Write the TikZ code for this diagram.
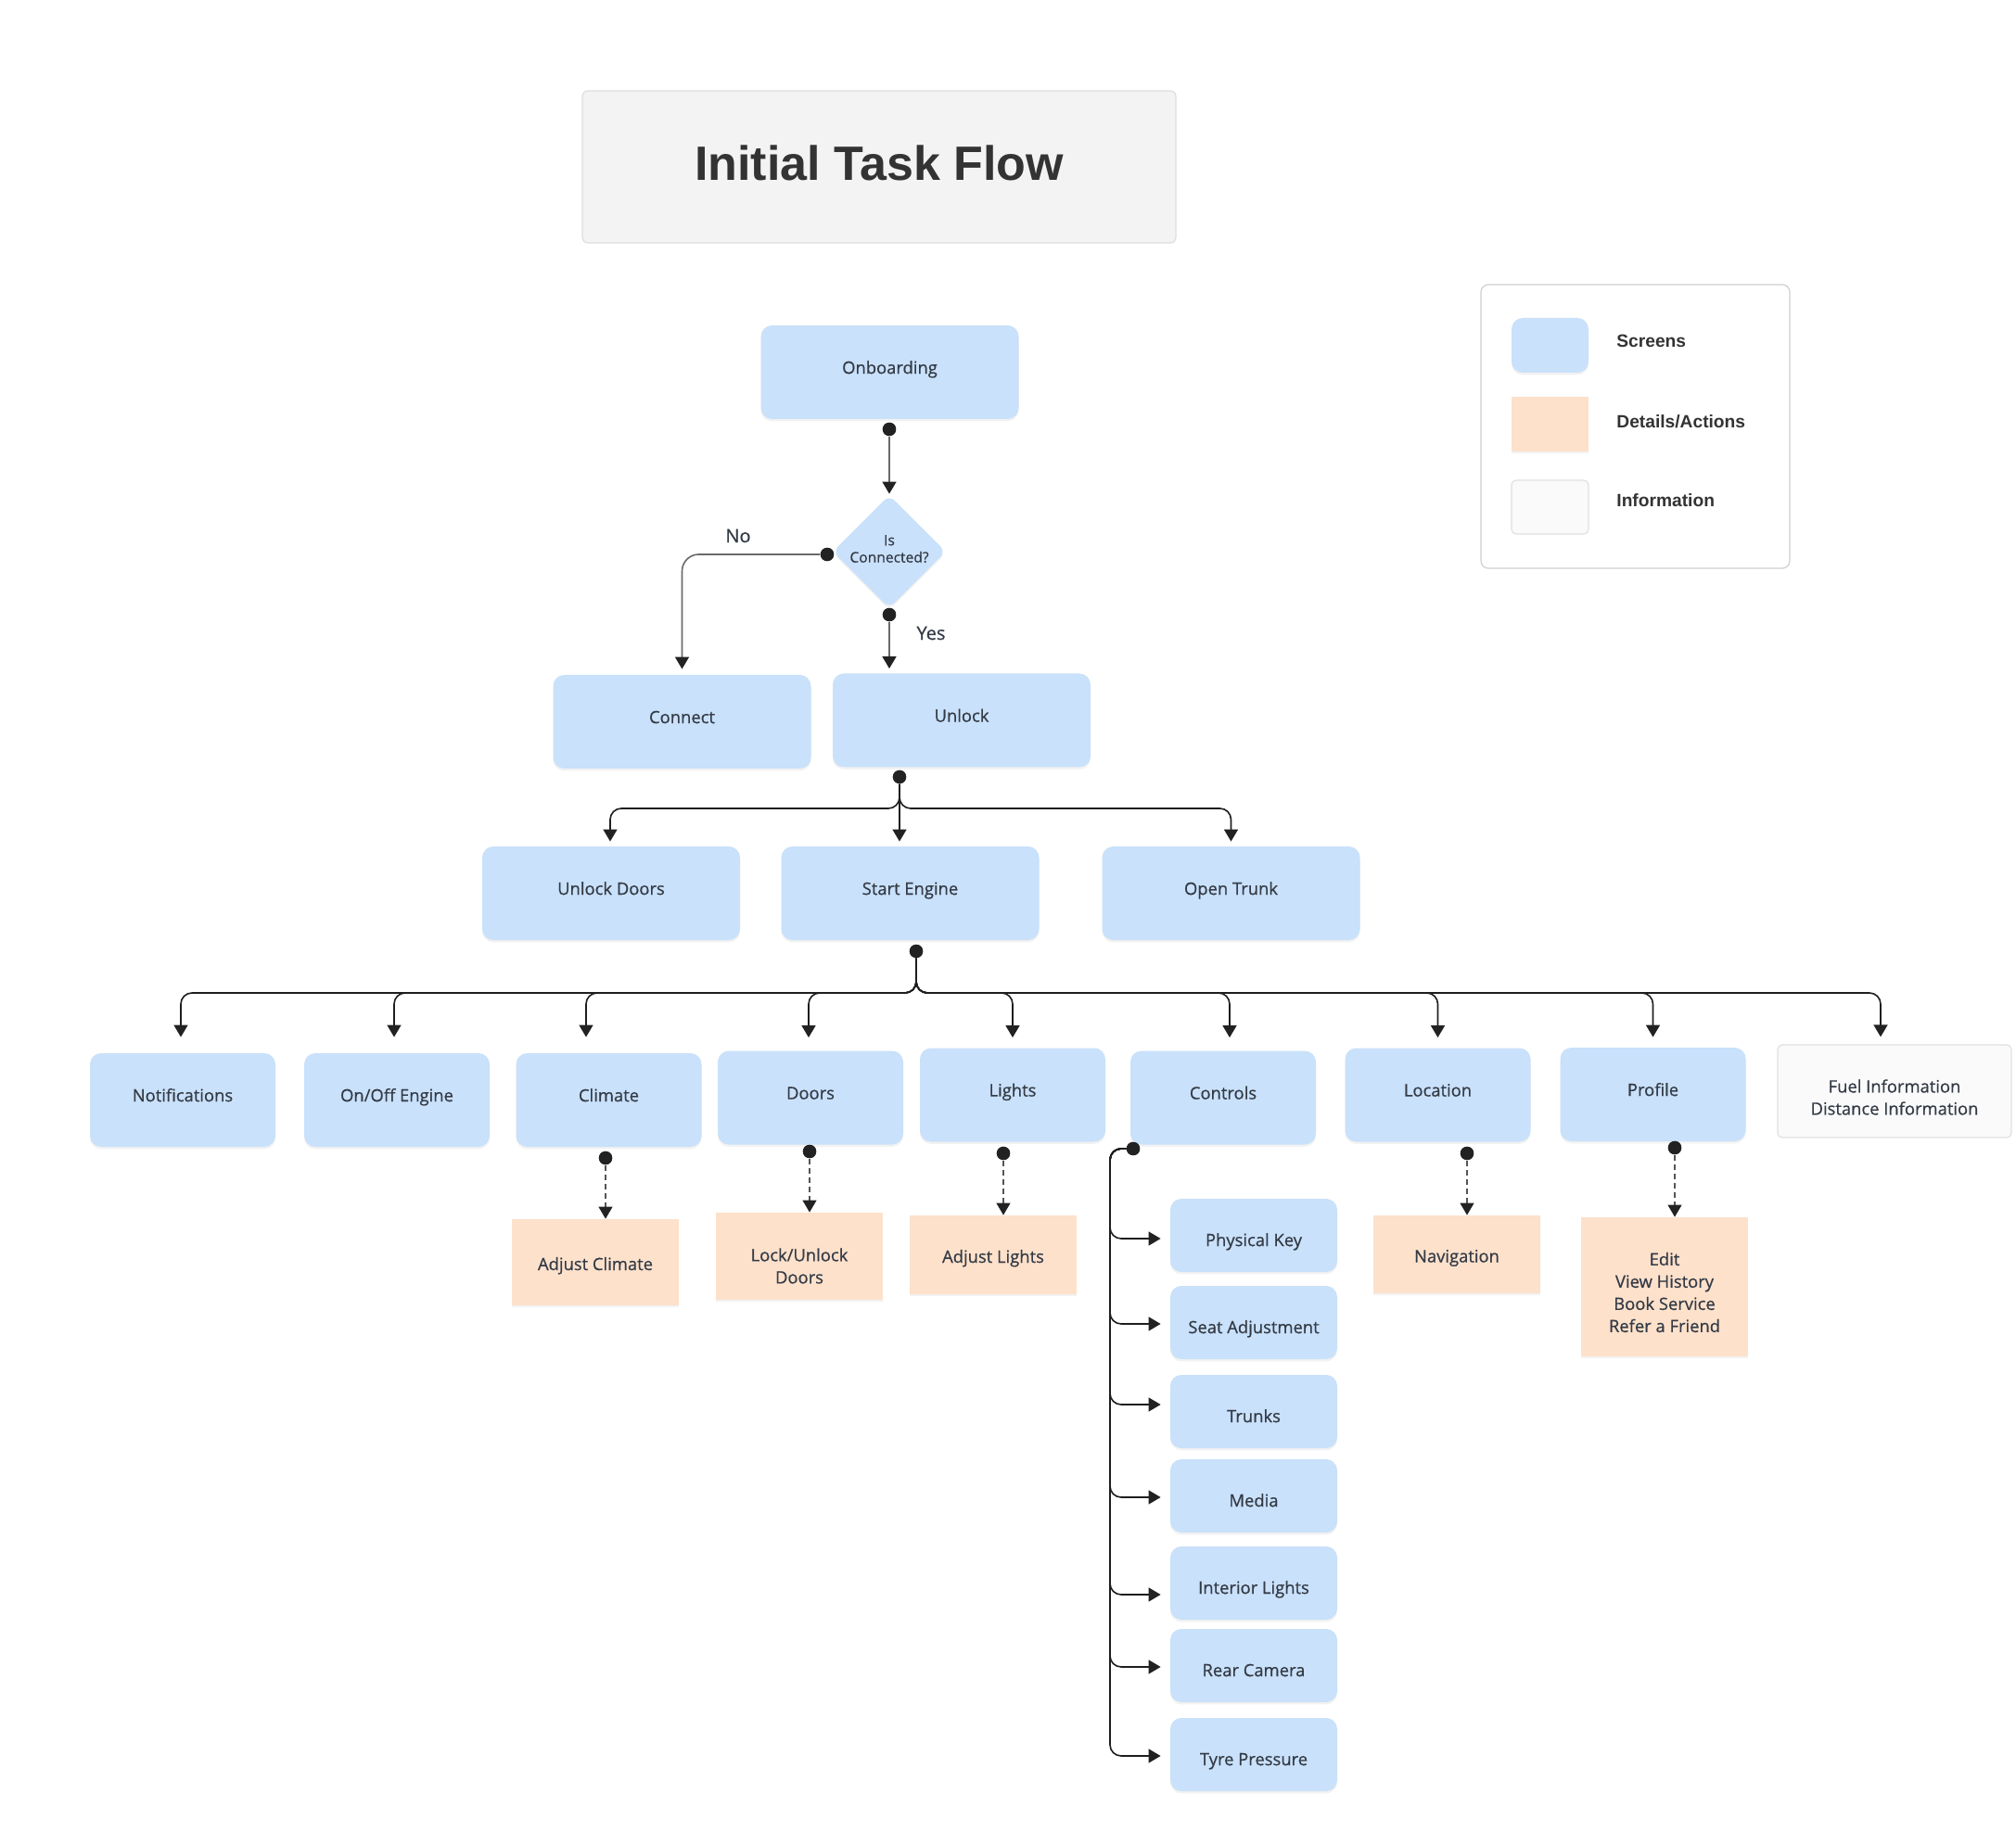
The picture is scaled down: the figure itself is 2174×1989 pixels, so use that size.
\documentclass[tikz,border=0pt]{standalone}
\usepackage{fontspec}
\setmainfont{Open Sans}[FakeBold=0.6]
\newfontfamily\headfont{Liberation Sans}
\usetikzlibrary{arrows.meta,shapes.geometric,shadows,calc}
\definecolor{scrblue}{HTML}{C9E1FA}
\definecolor{peach}{HTML}{FDE1CB}
\definecolor{infofill}{HTML}{FAFAFA}
\definecolor{infoline}{HTML}{E0E0E0}
\definecolor{titlefill}{HTML}{F3F3F3}
\definecolor{titleline}{HTML}{DEDEDE}
\definecolor{legline}{HTML}{CFCFCF}
\definecolor{txt}{HTML}{343B46}
\definecolor{headtxt}{HTML}{333333}
\definecolor{linec}{HTML}{1E1E1E}
\definecolor{greyline}{HTML}{6A6A6A}
\definecolor{dashc}{HTML}{555555}
\definecolor{dotc}{HTML}{222222}
\begin{document}
\begin{tikzpicture}[x=0.5pt,y=-0.5pt,text=txt,
  font=\fontsize{9.2}{12}\selectfont,
  shad/.style={drop shadow={opacity=0.10,shadow xshift=0pt,shadow yshift=-1.2pt}},
  scrbox/.style={fill=scrblue,rounded corners=6pt,inner sep=0pt,shad,text height=7pt,text depth=5.4pt},
  widebox/.style={minimum width=139pt,minimum height=50.5pt},
  midbox/.style={minimum width=100pt,minimum height=50.5pt},
  subbox/.style={fill=scrblue,rounded corners=6pt,inner sep=0pt,shad,minimum width=90pt,minimum height=39.5pt,text height=12pt,text depth=0.4pt},
  detbox/.style={fill=peach,inner sep=0pt,shad,minimum width=90pt,text height=9pt,text depth=0.5pt},
  infobox/.style={fill=infofill,draw=infoline,line width=0.6pt,rounded corners=2.5pt,inner sep=0pt},
  jdot/.style={circle,fill=dotc,inner sep=0pt,minimum size=7.2pt},
  tip/.style={-{Triangle[length=6.5pt,width=7.5pt,color=dotc]}},
  conn/.style={draw=linec,line width=0.8pt,tip},
  gconn/.style={draw=greyline,line width=0.8pt,tip},
  dconn/.style={draw=dashc,line width=0.6pt,dash pattern=on 3pt off 2pt,tip},
  legtext/.style={anchor=west,inner sep=0pt,text=headtxt,font=\headfont\bfseries\fontsize{9.6}{11}\selectfont,text height=6.8pt,text depth=0pt},
]
\useasboundingbox (0,0) rectangle (2174,1989);
\fill[white] (0,0) rectangle (2174,1989);

% title
\node[fill=titlefill,draw=titleline,line width=0.6pt,rounded corners=3pt,minimum width=320pt,minimum height=82pt,inner sep=0pt,text=headtxt,font=\headfont\bfseries\fontsize{26}{30}\selectfont,text depth=4pt] (title) at (948,180) {Initial Task Flow};

% legend
\node[draw=legline,fill=white,line width=0.6pt,rounded corners=4pt,minimum width=166.5pt,minimum height=153pt,inner sep=0pt] (legend) at (1763.5,460) {};
\node[fill=scrblue,rounded corners=6pt,shad,minimum width=41.5pt,minimum height=29.5pt,inner sep=0pt] (swscr) at (1671.5,372.5) {};
\node[fill=peach,shad,minimum width=41.5pt,minimum height=29.5pt,inner sep=0pt] (swdet) at (1671.5,457.5) {};
\node[infobox,minimum width=41.5pt,minimum height=29pt] (swinf) at (1671.5,547) {};
\node[legtext] (lgscr) at (1743,368) {Screens};
\node[legtext] (lgdet) at (1743,455) {Details/Actions};
\node[legtext] (lginf) at (1743,540) {Information};

% top flow
\node[scrbox,widebox] (onb) at (959.5,401.5) {Onboarding};
\node[diamond,aspect=1,fill=scrblue,shad,minimum width=61pt,minimum height=61pt,inner sep=0pt,rounded corners=4pt] (dia) at (959,595) {};
\node[font=\fontsize{7.8}{9.2}\selectfont,align=center] (diat) at (959,592) {Is\\Connected?};
\node[scrbox,widebox] (connect) at (735.5,778.5) {Connect};
\node[scrbox,widebox] (unl) at (1037,777) {Unlock};
\node[font=\fontsize{10}{12}\selectfont] (lno) at (796,578) {No};
\node[font=\fontsize{10}{12}\selectfont] (lyes) at (1004,683) {Yes};

\node[scrbox,widebox] (ud) at (659,963.5) {Unlock Doors};
\node[scrbox,widebox] (se) at (981.5,963.5) {Start Engine};
\node[scrbox,widebox] (ot) at (1327.5,963.5) {Open Trunk};

% row 3
\node[scrbox,midbox] (noti) at (197,1186.5) {Notifications};
\node[scrbox,midbox] (onoff) at (428,1186.5) {On/Off Engine};
\node[scrbox,midbox] (cli) at (656.5,1186.5) {Climate};
\node[scrbox,midbox] (door) at (874,1184) {Doors};
\node[scrbox,midbox] (lig) at (1092,1181) {Lights};
\node[scrbox,midbox] (ctl) at (1319,1184) {Controls};
\node[scrbox,midbox] (loc) at (1550.5,1181) {Location};
\node[scrbox,midbox] (prof) at (1782.5,1180.5) {Profile};
\node[infobox,minimum width=126pt,minimum height=50pt,
  label={[name=fuelt,align=center,yshift=-3.25pt]center:Fuel Information\\Distance Information}] (fuel) at (2043,1177) {};

% details
\node[detbox,minimum height=46.5pt] (adjc) at (642,1361.5) {Adjust Climate};
\node[detbox,minimum height=47pt,
  label={[name=ludt,align=center,yshift=-5.25pt]center:Lock/Unlock\\Doors}] (lud) at (862,1355) {};
\node[detbox,minimum height=42.5pt] (adl) at (1071,1353.5) {Adjust Lights};
\node[detbox,minimum height=42pt] (nav) at (1571,1353) {Navigation};
\node[detbox,minimum height=75pt,
  label={[name=editt,align=center,yshift=-3pt]center:Edit\\View History\\Book Service\\Refer a Friend}] (edit) at (1795,1388) {};

% controls sub screens
\node[subbox] (pk) at (1352,1332.5) {Physical Key};
\node[subbox] (sa) at (1352,1426.5) {Seat Adjustment};
\node[subbox] (tr) at (1352,1522.5) {Trunks};
\node[subbox] (me) at (1352,1613.5) {Media};
\node[subbox] (il) at (1352,1707.5) {Interior Lights};
\node[subbox] (rc) at (1352,1796.5) {Rear Camera};
\node[subbox] (tp) at (1352,1892.5) {Tyre Pressure};

% helper coordinates
\coordinate (ubus) at (0,872);
\coordinate (sbus) at (0,1071);
\coordinate (cbus) at (1197,1239);

% junction dots
\node[jdot] (dOn) at (959,463) {};
\node[jdot] (dNo) at (892,598) {};
\node[jdot] (dYes) at (959,663) {};
\node[jdot] (dU) at (970,838) {};
\node[jdot] (dSE) at (988,1026) {};
\node[jdot] (dC) at (653,1249) {};
\node[jdot] (dD) at (873,1242) {};
\node[jdot] (dL) at (1082,1244) {};
\node[jdot] (dLoc) at (1582,1244) {};
\node[jdot] (dP) at (1806,1238) {};
\node[jdot] (dCt) at (1222,1239) {};

% connectors
\draw[gconn,shorten >=0.5pt] (dOn) -- (dia.north);
\draw[gconn,rounded corners=9pt,shorten >=3pt] (dNo) -| (connect.north);
\draw[gconn,shorten >=2.5pt] (dYes) -- (dYes |- unl.north);

\draw[conn,shorten >=2.5pt] (dU) -- (dU |- se.north);
\draw[conn,rounded corners=6pt,shorten >=2.5pt] (dU) -- (dU |- ubus) -| ([xshift=-0.5pt]ud.north);
\draw[conn,rounded corners=6pt,shorten >=2.5pt] (dU) -- (dU |- ubus) -| (ot.north);

\foreach \t/\xs/\g in {noti/-1pt/8.5pt, onoff/-1.5pt/8.5pt, cli/-12.25pt/8.5pt, door/-1pt/7pt, lig/0pt/5.5pt, ctl/3.5pt/7pt, loc/0pt/5.5pt, prof/0pt/5.5pt, fuel/-7.5pt/4pt}
  \draw[conn,rounded corners=6pt,shorten >=\g] (dSE) -- (dSE |- sbus) -| ([xshift=\xs]\t.north);

\draw[dconn] (dC) -- (dC |- adjc.north);
\draw[dconn] (dD) -- (dD |- lud.north);
\draw[dconn] (dL) -- (dL |- adl.north);
\draw[dconn] (dLoc) -- (dLoc |- nav.north);
\draw[dconn] (dP) -- (dP |- edit.north);

\foreach \t/\ys in {pk/-1.75pt, sa/-0.75pt, tr/3.75pt, me/-0.75pt, il/-6.25pt, rc/-0.75pt, tp/-0.75pt}
  \draw[conn,rounded corners=6pt,shorten >=5pt] (dCt) -- (cbus) |- ([yshift=\ys]\t.west);

% redraw dots on top
\foreach \d in {dOn,dNo,dYes,dU,dSE,dC,dD,dL,dLoc,dP,dCt}
  \fill[dotc] (\d) circle[radius=3.6pt];
\end{tikzpicture}
\end{document}
